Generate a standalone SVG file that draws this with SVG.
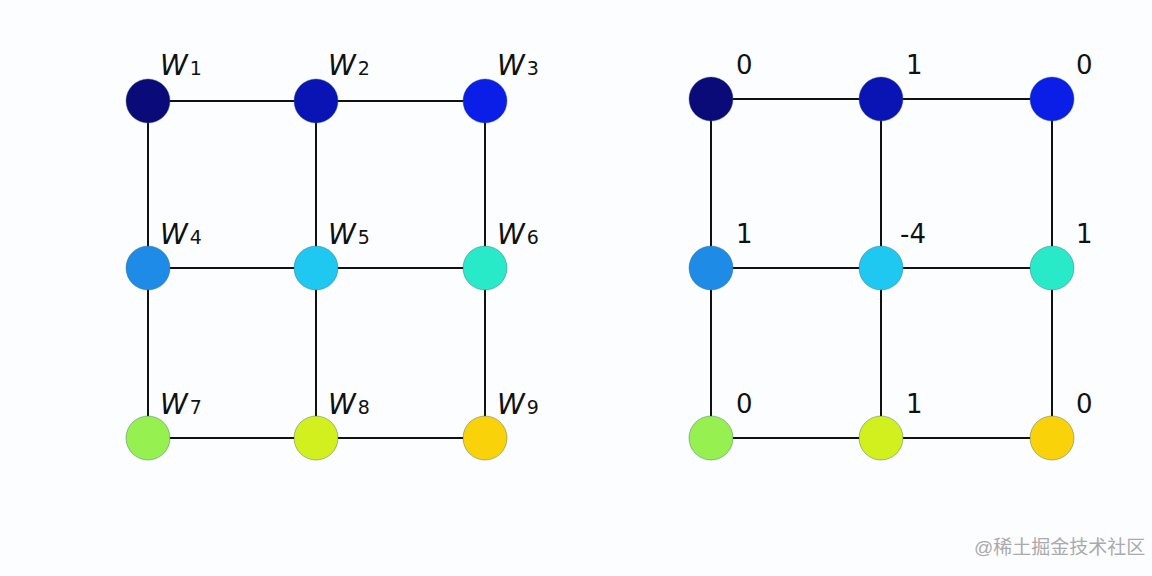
<svg xmlns="http://www.w3.org/2000/svg" width="1152" height="576" viewBox="0 0 1152 576">
<style>
.e{stroke:#111;stroke-width:2;fill:none}
.n{stroke:#2a5a6a;stroke-width:1;stroke-opacity:.4}
.w{font-family:"DejaVu Sans",sans-serif;font-size:28px;font-style:italic;fill:#111}
.s{font-family:"DejaVu Sans",sans-serif;font-size:19px;font-style:normal}
.v{font-family:"DejaVu Sans",sans-serif;font-size:26px;fill:#111}
.wm{font-family:"Liberation Sans","Noto Sans CJK SC",sans-serif;font-size:19px;fill:#aaa}
</style>
<rect width="1152" height="576" fill="#fcfdff"/>
<g id="connectors" class="e">
<path d="M148 101H485M148 268H485M148 438H485M148 101V438M316 101V438M485 101V438"/>
<path d="M711 99H1052M711 268H1052M711 438H1052M711 99V438M881 99V438M1052 99V438"/>
</g>
<g id="left">
<g id="w1"><circle class="n" cx="148" cy="101" r="22" fill="#0a0a78"/><text class="w" x="160" y="75">W<tspan class="s" dx="2">1</tspan></text></g>
<g id="w2"><circle class="n" cx="316" cy="101" r="22" fill="#0a14b4"/><text class="w" x="328" y="75">W<tspan class="s" dx="2">2</tspan></text></g>
<g id="w3"><circle class="n" cx="485" cy="101" r="22" fill="#0a1ee8"/><text class="w" x="497" y="75">W<tspan class="s" dx="2">3</tspan></text></g>
<g id="w4"><circle class="n" cx="148" cy="268" r="22" fill="#1e8ce6"/><text class="w" x="160" y="244">W<tspan class="s" dx="2">4</tspan></text></g>
<g id="w5"><circle class="n" cx="316" cy="268" r="22" fill="#1ec8f0"/><text class="w" x="328" y="244">W<tspan class="s" dx="2">5</tspan></text></g>
<g id="w6"><circle class="n" cx="485" cy="268" r="22" fill="#28eac8"/><text class="w" x="497" y="244">W<tspan class="s" dx="2">6</tspan></text></g>
<g id="w7"><circle class="n" cx="148" cy="438" r="22" fill="#96f050"/><text class="w" x="160" y="414">W<tspan class="s" dx="2">7</tspan></text></g>
<g id="w8"><circle class="n" cx="316" cy="438" r="22" fill="#d2f01e"/><text class="w" x="328" y="414">W<tspan class="s" dx="2">8</tspan></text></g>
<g id="w9"><circle class="n" cx="485" cy="438" r="22" fill="#fad20a"/><text class="w" x="497" y="414">W<tspan class="s" dx="2">9</tspan></text></g>
</g>
<g id="right">
<g id="r1"><circle class="n" cx="711" cy="99" r="22" fill="#0a0a78"/><text class="v" x="736" y="74">0</text></g>
<g id="r2"><circle class="n" cx="881" cy="99" r="22" fill="#0a14b4"/><text class="v" x="906" y="74">1</text></g>
<g id="r3"><circle class="n" cx="1052" cy="99" r="22" fill="#0a1ee8"/><text class="v" x="1076" y="74">0</text></g>
<g id="r4"><circle class="n" cx="711" cy="268" r="22" fill="#1e8ce6"/><text class="v" x="736" y="243">1</text></g>
<g id="r5"><circle class="n" cx="881" cy="268" r="22" fill="#1ec8f0"/><text class="v" x="900" y="243">-4</text></g>
<g id="r6"><circle class="n" cx="1052" cy="268" r="22" fill="#28eac8"/><text class="v" x="1076" y="243">1</text></g>
<g id="r7"><circle class="n" cx="711" cy="438" r="22" fill="#96f050"/><text class="v" x="736" y="413">0</text></g>
<g id="r8"><circle class="n" cx="881" cy="438" r="22" fill="#d2f01e"/><text class="v" x="906" y="413">1</text></g>
<g id="r9"><circle class="n" cx="1052" cy="438" r="22" fill="#fad20a"/><text class="v" x="1076" y="413">0</text></g>
</g>
<text class="wm" x="974" y="554">@稀土掘金技术社区</text>
</svg>
